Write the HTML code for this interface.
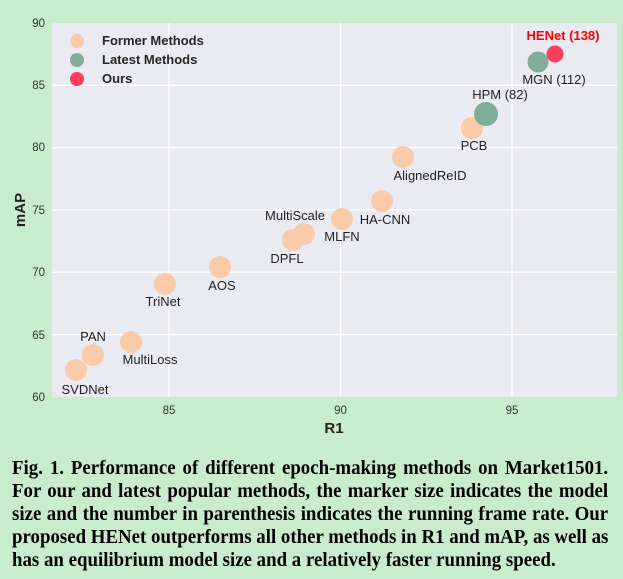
<!DOCTYPE html>
<html><head><style>
body{margin:0;width:623px;height:579px;background:#c8eccc;overflow:hidden}
svg{position:absolute;left:0;top:0}
.cap{position:absolute;left:12px;top:457px;width:648px;transform:scaleX(0.92);transform-origin:0 0;font-family:"Liberation Serif",serif;font-weight:bold;font-size:20.5px;line-height:23px;color:#000}
.cap span{display:block;text-align:justify;text-align-last:justify;white-space:nowrap}
.cap span:last-child{text-align-last:left}
</style></head><body>
<svg width="623" height="450" font-family="Liberation Sans, sans-serif">
<rect x="52" y="23" width="565" height="374" fill="#eaeaf2"/>
<g stroke="#fff" stroke-width="1.3">
<line x1="52" x2="617" y1="85.3" y2="85.3"/><line x1="52" x2="617" y1="147.7" y2="147.7"/>
<line x1="52" x2="617" y1="210" y2="210"/><line x1="52" x2="617" y1="272.3" y2="272.3"/>
<line x1="52" x2="617" y1="334.7" y2="334.7"/>
<line x1="169" x2="169" y1="23" y2="397"/><line x1="340.5" x2="340.5" y1="23" y2="397"/><line x1="512" x2="512" y1="23" y2="397"/>
</g>
<g font-size="11.5" fill="#333" text-anchor="end">
<text x="45" y="27">90</text><text x="45" y="89">85</text><text x="45" y="151">80</text><text x="45" y="214">75</text><text x="45" y="276">70</text><text x="45" y="339">65</text><text x="45" y="401">60</text>
</g>
<g font-size="11.5" fill="#333" text-anchor="middle">
<text x="169" y="414">85</text><text x="340.5" y="414">90</text><text x="512" y="414">95</text>
</g>
<text x="334" y="433" font-size="15" font-weight="bold" fill="#222" text-anchor="middle">R1</text>
<text transform="translate(25,210) rotate(-90)" font-size="15" font-weight="bold" fill="#222" text-anchor="middle">mAP</text>
<g fill="#f9cba9">
<circle cx="77" cy="41" r="7"/>
<circle cx="76" cy="370" r="11"/><circle cx="93" cy="355" r="11"/><circle cx="131" cy="342" r="11"/>
<circle cx="165" cy="284" r="11"/><circle cx="220" cy="267" r="11"/><circle cx="293" cy="240" r="11"/>
<circle cx="304" cy="234" r="11"/><circle cx="342" cy="219" r="11"/><circle cx="382" cy="201" r="11"/>
<circle cx="403" cy="157" r="11"/><circle cx="472" cy="128" r="11"/>
</g>
<g fill="#80ad97">
<circle cx="77" cy="60" r="7"/><circle cx="486" cy="114" r="12"/><circle cx="538" cy="62" r="10.5"/>
</g>
<g fill="#fd3f5f"><circle cx="77" cy="79" r="7"/><circle cx="555" cy="54" r="8.5"/></g>
<g font-size="13" font-weight="bold" fill="#262626">
<text x="102" y="45">Former Methods</text><text x="102" y="64">Latest   Methods</text><text x="102" y="83">Ours</text>
</g>
<g font-size="13" fill="#222" text-anchor="middle">
<text x="85" y="394">SVDNet</text><text x="93" y="341">PAN</text><text x="150" y="364">MultiLoss</text>
<text x="163" y="306">TriNet</text><text x="222" y="290">AOS</text><text x="287" y="263">DPFL</text>
<text x="295" y="220">MultiScale</text><text x="342" y="241">MLFN</text><text x="385" y="224">HA-CNN</text>
<text x="430" y="180">AlignedReID</text><text x="474" y="150">PCB</text><text x="500" y="99">HPM (82)</text>
<text x="554" y="84">MGN (112)</text>
</g>
<text x="563" y="40" font-size="13" font-weight="bold" fill="#ff0000" text-anchor="middle">HENet (138)</text>
</svg>
<div class="cap"><span>Fig. 1. Performance of different epoch-making methods on Market1501.</span><span>For our and latest popular methods, the marker size indicates the model</span><span>size and the number in parenthesis indicates the running frame rate. Our</span><span>proposed HENet outperforms all other methods in R1 and mAP, as well as</span><span>has an equilibrium model size and a relatively faster running speed.</span></div>
</body></html>
